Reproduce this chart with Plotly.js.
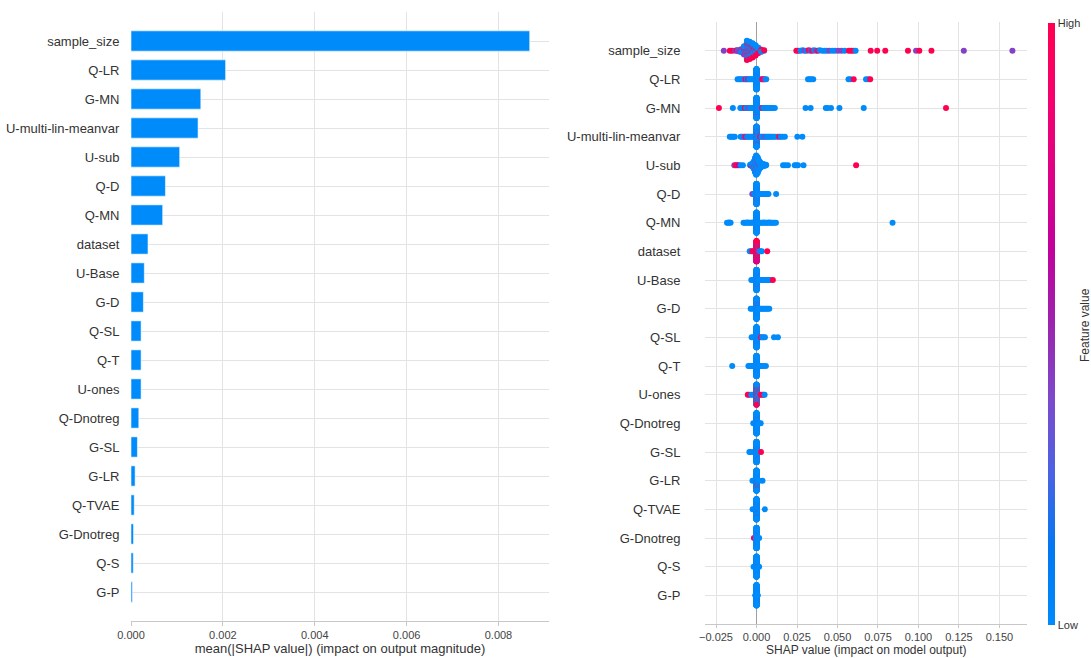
<!DOCTYPE html>
<html><head><meta charset="utf-8">
<script src="https://cdn.plot.ly/plotly-3.0.1.min.js"></script>
<style>html,body{margin:0;padding:0;background:#fff;} #chart{width:1091px;height:658px;}</style>
</head><body><div id="chart"></div>
<script>
// ---------------- DATA ----------------
const features = ["sample_size","Q-LR","G-MN","U-multi-lin-meanvar","U-sub","Q-D","Q-MN","dataset","U-Base","G-D",
  "Q-SL","Q-T","U-ones","Q-Dnotreg","G-SL","G-LR","Q-TVAE","G-Dnotreg","Q-S","G-P"];

const meanAbsShap = [0.00868,0.00206,0.00152,0.00146,0.00106,0.00075,0.00069,0.00037,0.00029,0.00027,
  0.00022,0.00022,0.00022,0.00017,0.00014,0.00009,0.00007,0.000055,0.00005,0.00003];

const xTicksBar = [0,0.002,0.004,0.006,0.008];
const xTicksSwarm = [-0.025,0,0.025,0.05,0.075,0.1,0.125,0.15];

// SHAP points per feature: [shap value, number of samples, feature value (0 = low, 1 = high)]
const shapSampleSize = [
  [-0.0202,1,0.4],[-0.0165,1,1],[-0.0150,1,1],[-0.0131,1,0.4],[-0.0122,1,1],
  [-0.0113,2,0.4],[-0.0113,1,0],
  [-0.0095,3,0],[-0.0095,2,1],[-0.0095,2,0.4],
  [-0.0077,9,0],[-0.0077,5,0.4],[-0.0077,4,1],
  [-0.0059,22,0],[-0.0059,9,0.4],[-0.0059,9,1],
  [-0.0042,20,0],[-0.0042,8,0.4],[-0.0042,8,1],
  [-0.0024,17,0],[-0.0024,6,0.4],[-0.0024,7,1],
  [-0.0006,13,0],[-0.0006,4,0.4],[-0.0006,5,1],
  [0.0012,7,0],[0.0012,2,0.4],[0.0012,3,1],
  [0.0030,3,0],[0.0030,2,1],
  [0.0047,1,0],[0.0047,1,1],
  [0.0246,1,1],[0.0258,1,1],[0.0272,1,0],[0.0285,1,0],[0.0297,1,0.4],[0.0310,1,0],[0.0322,1,1],
  [0.0333,1,0.4],[0.0345,1,1],[0.0355,1,0],[0.0368,1,0.4],[0.0380,1,1],[0.0390,1,0],[0.0405,1,0],
  [0.0420,1,0],[0.0435,1,0],[0.0450,1,0.4],[0.0468,1,0],[0.0485,1,0],[0.0505,1,0.4],[0.0525,1,0.4],
  [0.0545,1,0],[0.0570,1,1],[0.0585,1,1],[0.0598,1,1],[0.0612,1,0],
  [0.0705,1,1],[0.0745,1,1],[0.0795,1,1],[0.0935,1,1],[0.0985,1,0.4],[0.1005,1,1],[0.1080,1,1],
  [0.1280,1,0.4],[0.1580,1,0.4]
];
const shapQLR = [
  [-0.0117,1,0],[-0.0107,1,0],[-0.0098,1,0],[-0.0088,1,0],[-0.0078,1,0],[-0.0068,1,1],[-0.0060,1,0],
  [-0.0052,1,0.5],[-0.0045,1,0],[-0.0037,1,0],[-0.0028,1,0],[-0.0020,1,0],
  [0,186,0],[0,2,0.4],
  [0.0027,1,0],[0.0035,1,1],[0.0043,1,1],[0.0051,1,0.4],[0.0060,1,0],
  [0.0318,1,0],[0.0328,1,0],[0.0338,1,0],[0.0350,1,0],
  [0.0568,1,0],[0.0580,1,0],[0.0600,1,1],[0.0676,1,0],[0.0690,1,0],[0.0702,1,1]
];
const shapGMN = [
  [-0.0232,1,1],[-0.0146,1,0],[-0.0100,1,0],[-0.0092,1,0],[-0.0080,1,0],[-0.0072,1,1],[-0.0064,1,0],
  [-0.0056,1,0],[-0.0048,1,0.4],[-0.0040,1,0],[-0.0032,1,0],[-0.0024,1,0],[-0.0016,1,0],
  [0,176,0],[0,6,1],
  [0.0016,1,0],[0.0024,1,0],[0.0034,1,1],[0.0042,1,0],[0.0050,1,0],[0.0058,1,0],[0.0066,1,0],
  [0.0075,1,0],[0.0084,1,0],[0.0092,1,0],[0.0102,1,0],[0.0113,1,0],
  [0.0303,1,0],[0.0334,1,0],[0.0428,1,0],[0.0439,1,0],[0.0460,1,0],[0.0512,1,0],[0.0662,1,0],[0.1170,1,1]
];
const shapUMulti = [
  [-0.0165,1,0],[-0.0158,1,0],[-0.0150,1,0],[-0.0142,1,0],[-0.0134,1,0],
  [-0.0098,1,0],[-0.0090,1,0],[-0.0082,1,0],[-0.0074,1,0.4],[-0.0066,1,1],[-0.0058,1,0],[-0.0050,1,0],
  [-0.0042,1,0],[-0.0034,1,0],[-0.0026,1,0],[-0.0018,1,0],
  [0,158,0],[0,12,1],[0,5,0.4],
  [0.0014,1,0],[0.0022,1,1],[0.0030,1,0],[0.0038,1,0],[0.0046,1,0],[0.0054,1,0.4],[0.0062,1,0],
  [0.0070,1,0],[0.0078,1,0],[0.0086,1,0],[0.0094,1,0],[0.0104,1,0],[0.0115,1,0],[0.0128,1,0],
  [0.0140,1,1],[0.0150,1,0],[0.0162,1,0],[0.0175,1,0],
  [0.0252,1,0],[0.0283,1,0]
];
const shapUSub = [
  [-0.0137,1,0.4],[-0.0128,1,1],[-0.0119,1,1],[-0.0110,1,0.6],[-0.0098,1,0],[-0.0084,1,0],
  [-0.0039,2,0],[-0.0032,3,0],[-0.0032,1,1],[-0.0024,7,0],[-0.0024,1,0.4],
  [-0.0017,13,0],[-0.0017,2,0.4],[-0.0017,1,1],
  [-0.0009,25,0],[-0.0009,3,0.4],[-0.0009,2,1],
  [-0.0002,34,0],[-0.0002,4,0.4],[-0.0002,2,1],
  [0.0006,29,0],[0.0006,3,0.4],[0.0006,2,1],
  [0.0013,19,0],[0.0013,2,0.4],[0.0013,1,1],
  [0.0021,12,0],[0.0021,2,1],[0.0028,8,0],[0.0028,1,0.4],
  [0.0036,6,0],[0.0044,4,0],[0.0051,3,0],[0.0059,2,0],
  [0.0164,1,0],[0.0178,1,0],[0.0194,1,0],[0.0236,1,0],[0.0246,1,0],[0.0256,1,0],[0.0290,1,0],
  [0.0615,1,1]
];
const shapQD = [
  [-0.0026,1,0.4],[-0.0014,1,0],
  [0,190,0],[0,5,1],[0,3,0.4],
  [0.0010,1,0],[0.0018,1,0],[0.0026,1,0],[0.0034,1,0],[0.0042,1,0],[0.0050,1,0],[0.0058,1,0],
  [0.0066,1,0],[0.0074,1,0],[0.0121,1,0]
];
const shapQMN = [
  [-0.0182,1,0],[-0.0175,1,0],[-0.0168,1,0],[-0.0160,1,0],
  [-0.0080,1,0],[-0.0072,1,0],[-0.0064,1,0],[-0.0056,1,0],[-0.0048,1,0],[-0.0040,1,0],[-0.0032,1,0],
  [-0.0024,1,0],[-0.0016,1,0],
  [0,180,0],
  [0.0014,1,0],[0.0022,1,0],[0.0030,1,0],[0.0038,1,0],[0.0046,1,0],[0.0054,1,0],[0.0062,1,0],
  [0.0070,1,0],[0.0078,1,0],[0.0086,1,0],[0.0094,1,0],[0.0102,1,0],[0.0110,1,0],[0.0120,1,0],
  [0.0840,1,0]
];
const shapDataset = [
  [-0.0042,1,0],[-0.0034,1,0],[-0.0026,1,1],[-0.0018,1,1],
  [0,110,1],[0,40,0.75],[0,25,0.45],[0,15,0],
  [0.0016,1,0.4],[0.0024,1,0],[0.0032,1,0],[0.0066,1,1]
];
const shapUBase = [
  [-0.0032,1,0],[-0.0022,1,0],
  [0,180,0],[0,6,1],
  [0.0012,1,0],[0.0020,1,0],[0.0028,1,0],[0.0036,1,0],[0.0044,1,0],[0.0052,1,0],[0.0060,1,0],
  [0.0068,1,0],[0.0077,1,0],[0.0086,1,0],[0.0101,1,1]
];
const shapGD = [
  [-0.0036,1,0],[-0.0026,1,0],
  [0,185,0],[0,6,1],
  [0.0014,1,0],[0.0022,1,0],[0.0030,1,0],[0.0038,1,0],[0.0046,1,0],[0.0054,1,0],[0.0062,1,0],
  [0.0071,1,0],[0.0079,1,0]
];
const shapQSL = [
  [-0.0030,1,0],[-0.0020,1,0],
  [0,190,0],[0,2,1],
  [0.0016,1,0],[0.0027,1,1],[0.0036,1,0],[0.0044,1,0],[0.0052,1,0],[0.0108,1,0],[0.0132,1,0]
];
const shapQT = [
  [-0.0150,1,0],[-0.0050,1,0],[-0.0042,1,0],[-0.0034,1,0],[-0.0026,1,0],[-0.0018,1,0],
  [0,195,0],
  [0.0016,1,0],[0.0024,1,0],[0.0032,1,0],[0.0042,1,0],[0.0058,1,0]
];
const shapUOnes = [
  [-0.0054,1,1],[-0.0046,1,1],[-0.0032,1,0],[-0.0022,1,0],
  [0,120,0],[0,60,1],
  [0.0016,1,0],[0.0024,1,1],[0.0034,1,1],[0.0044,1,1],[0.0050,1,0]
];
const shapQDnotreg = [
  [-0.0020,1,0],
  [0,200,0],[0,3,1],
  [0.0016,1,0],[0.0026,1,0]
];
const shapGSL = [
  [-0.0044,1,0],[-0.0037,1,0],[-0.0020,1,0],
  [0,195,0],[0,6,1],
  [0.0016,1,0],[0.0028,1,1]
];
const shapGLR = [
  [-0.0025,1,0],
  [0,190,0],[0,10,1],
  [0.0016,1,0],[0.0037,1,0]
];
const shapQTVAE = [
  [-0.0024,1,0],
  [0,200,0],[0,5,1],
  [0.0051,1,0]
];
const shapGDnotreg = [
  [-0.0016,1,1],
  [0,205,0],[0,2,0.75],
  [0.0016,1,0]
];
const shapQS = [
  [-0.0018,1,0],
  [0,205,0],[0,1,0.6],
  [0.0016,1,0]
];
const shapGP = [
  [-0.0006,3,0],
  [0,208,0],[0,1,0.4],
  [0.0006,3,0]
];

const shapByFeature = [shapSampleSize,shapQLR,shapGMN,shapUMulti,shapUSub,shapQD,shapQMN,shapDataset,
  shapUBase,shapGD,shapQSL,shapQT,shapUOnes,shapQDnotreg,shapGSL,shapGLR,shapQTVAE,shapGDnotreg,shapQS,shapGP];

// ---------------- BEESWARM LAYOUT (as in shap summary plot) ----------------
function beeswarm(groups, row) {
  const pts = [];
  groups.forEach(function(g, gi){
    for (let k = 0; k < g[1]; k++) pts.push({x:g[0], f:g[2], gi:gi, r:(k+0.5)/g[1]});
  });
  let mn = Infinity, mx = -Infinity;
  pts.forEach(function(p){ if (p.x < mn) mn = p.x; if (p.x > mx) mx = p.x; });
  const nbins = 100;
  pts.forEach(function(p){ p.q = Math.round(nbins*(p.x-mn)/(mx-mn+1e-8)); });
  const order = pts.slice().sort(function(a,b){ return a.q-b.q || a.r-b.r || a.gi-b.gi; });
  let layer = 0, last = -1, maxY = 1;
  order.forEach(function(p){
    if (p.q !== last) layer = 0;
    p.o = Math.ceil(layer/2)*((layer%2)*2-1);
    layer++; last = p.q;
    if (p.o + 1 > maxY) maxY = p.o + 1;
  });
  const s = 0.9*0.4/maxY;
  return order.map(function(p){ return {x:p.x, y:row - p.o*s, f:p.f}; });
}

const sx = [], sy = [], sf = [];
shapByFeature.forEach(function(groups, i){
  beeswarm(groups, i).forEach(function(p){ sx.push(p.x); sy.push(p.y); sf.push(p.f); });
});

const rowIdx = features.map(function(_, i){ return i; });

const shapColors = [
  [0,'rgb(0,139,251)'],[0.125,'rgb(0,120,243)'],[0.25,'rgb(73,99,227)'],[0.375,'rgb(125,73,204)'],
  [0.5,'rgb(155,36,173)'],[0.625,'rgb(194,0,156)'],[0.75,'rgb(223,0,135)'],[0.875,'rgb(245,0,109)'],
  [1,'rgb(255,0,81)']
];

const W = 1091, H = 658;
const px = function(v){ return v/W; };
const py = function(v){ return 1 - v/H; };

const traces = [
  {
    type:'bar', orientation:'h', x:meanAbsShap, y:rowIdx, width:0.7,
    marker:{color:'#008bfb', line:{color:'rgba(255,255,255,0.7)', width:0.8}},
    xaxis:'x', yaxis:'y', hoverinfo:'skip'
  },
  {
    type:'scatter', mode:'markers', x:sx, y:sy, xaxis:'x2', yaxis:'y2', hoverinfo:'skip',
    marker:{
      size:6, color:sf, cmin:0, cmax:1, colorscale:shapColors, line:{width:0},
      showscale:true,
      colorbar:{
        x:px(1048), xanchor:'left', xpad:0, ypad:0,
        y:py(324), yanchor:'middle', len:602/H, lenmode:'fraction',
        thickness:7, thicknessmode:'pixels', outlinewidth:0,
        tickvals:[0,1], ticktext:['Low','High'], ticks:'', ticklen:0,
        tickfont:{size:11, color:'#333'}
      }
    }
  }
];

const gridC = '#e3e3e3';
const layout = {
  width:W, height:H,
  margin:{l:0, r:0, t:0, b:0},
  paper_bgcolor:'#ffffff', plot_bgcolor:'#ffffff',
  showlegend:false,
  font:{family:'"Liberation Sans", Arial, sans-serif', color:'#333'},
  xaxis:{
    domain:[px(131), px(549)], range:[0, 0.0091], anchor:'y',
    tickvals:xTicksBar, tickformat:'.3f',
    showgrid:true, gridcolor:gridC, gridwidth:1, zeroline:false,
    showline:true, linecolor:'#c8c8c8', linewidth:1,
    ticks:'outside', ticklen:4, tickcolor:'#c8c8c8',
    tickfont:{size:11, color:'#444'},
    title:{text:'mean(|SHAP value|) (impact on output magnitude)', font:{size:13, color:'#333'}, standoff:2},
    fixedrange:true
  },
  yaxis:{
    domain:[py(621), py(12)], range:[20,-1], anchor:'x',
    tickvals:rowIdx, ticktext:features,
    showgrid:true, gridcolor:gridC, gridwidth:1, zeroline:false, showline:false,
    ticks:'outside', ticklen:8, tickcolor:'rgba(0,0,0,0)',
    tickfont:{size:13, color:'#333'}, fixedrange:true
  },
  xaxis2:{
    domain:[px(705), px(1027)], range:[-0.0318, 0.167], anchor:'y2',
    tickvals:xTicksSwarm, tickformat:'.3f',
    showgrid:true, gridcolor:gridC, gridwidth:1,
    zeroline:true, zerolinecolor:'#a0a0a0', zerolinewidth:1,
    showline:true, linecolor:'#c8c8c8', linewidth:1,
    ticks:'outside', ticklen:3, tickcolor:'#c8c8c8',
    tickfont:{size:11, color:'#444'},
    fixedrange:true
  },
  yaxis2:{
    domain:[py(624), py(22)], range:[20,-1], anchor:'x2',
    tickvals:rowIdx, ticktext:features,
    showgrid:true, gridcolor:gridC, gridwidth:1, zeroline:false, showline:false,
    ticks:'outside', ticklen:21, tickcolor:'rgba(0,0,0,0)',
    tickfont:{size:13, color:'#333'}, fixedrange:true
  },
  annotations:[
    {text:'SHAP value (impact on model output)', x:px(866), y:0, xref:'paper', yref:'paper',
     showarrow:false, xanchor:'center', yanchor:'bottom', borderpad:0,
     font:{size:12, color:'#333'}},
    {text:'Feature value', x:px(1085), y:py(325), xref:'paper', yref:'paper',
     showarrow:false, textangle:-90, xanchor:'center', yanchor:'middle',
     font:{size:12, color:'#333'}}
  ]
};

Plotly.newPlot('chart', traces, layout, {displayModeBar:false, staticPlot:true});
</script>
</body></html>
